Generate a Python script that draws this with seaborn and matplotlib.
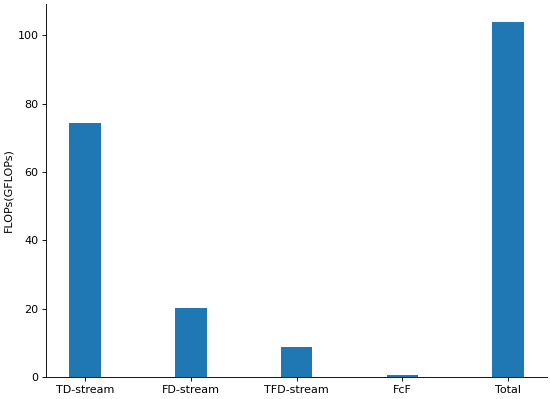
import matplotlib
matplotlib.use("Agg")
import matplotlib.pyplot as plt
import seaborn as sns
import pandas as pd

categories = ["TD-stream", "FD-stream", "TFD-stream", "FcF", "Total"]
flops = [74.3, 20.2, 8.7, 0.7, 104.0]

df = pd.DataFrame({"module": categories, "flops": flops})

fig, ax = plt.subplots(figsize=(6.875, 4.9875), dpi=80)
sns.barplot(data=df, x="module", y="flops", color="#1f77b4", saturation=1,
            width=0.3, ax=ax, errorbar=None)
ax.set_xlim(-0.365, 4.365)
ax.set_ylim(0, 109.2)
ax.set_xlabel("")
ax.set_ylabel("FLOPs(GFLOPs)")
sns.despine(ax=ax)
fig.subplots_adjust(left=0.084, right=0.9945, bottom=0.055, top=0.99)
fig.savefig("out.png", dpi=80)
